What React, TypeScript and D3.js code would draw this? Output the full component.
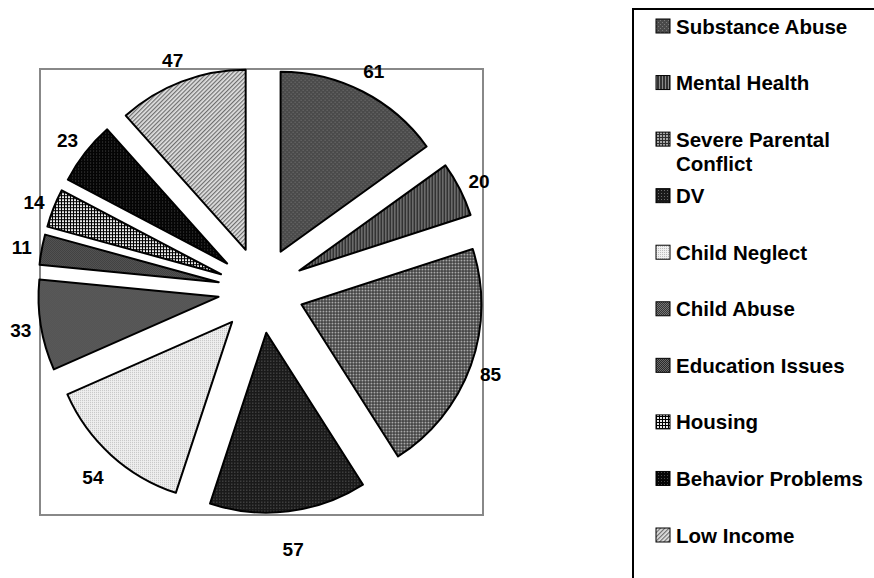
import * as d3 from 'd3'

const categories = [
  'Substance Abuse',
  'Mental Health',
  'Severe Parental Conflict',
  'DV',
  'Child Neglect',
  'Child Abuse',
  'Education Issues',
  'Housing',
  'Behavior Problems',
  'Low Income',
]
const values = [61, 20, 85, 57, 54, 33, 11, 14, 23, 47]
const legendLines = [
  ['Substance Abuse'],
  ['Mental Health'],
  ['Severe Parental', 'Conflict'],
  ['DV'],
  ['Child Neglect'],
  ['Child Abuse'],
  ['Education Issues'],
  ['Housing'],
  ['Behavior Problems'],
  ['Low Income'],
]
const patternIds = ['sa', 'mh', 'spc', 'dv', 'cn', 'ca', 'ed', 'ho', 'bp', 'li']

const W = 874
const H = 578
const cx = 261
const cy = 290
const radius = 180
const explode = 43
const font = 'Liberation Sans, Arial, sans-serif'

function Patterns() {
  return (
    <defs>
      <pattern id="sa" width={4} height={4} patternUnits="userSpaceOnUse">
        <rect width={4} height={4} fill="#4a4a4a" />
        <rect x={0} y={0} width={1} height={1} fill="#7a7a7a" />
        <rect x={2} y={2} width={1} height={1} fill="#7a7a7a" />
      </pattern>
      <pattern id="mh" width={3} height={3} patternUnits="userSpaceOnUse">
        <rect width={3} height={3} fill="#333" />
        <rect x={2} width={1} height={3} fill="#8a8a8a" />
      </pattern>
      <pattern id="spc" width={3} height={3} patternUnits="userSpaceOnUse">
        <rect width={3} height={3} fill="#2e2e2e" />
        <rect width={2} height={2} fill="#a8a8a8" />
      </pattern>
      <pattern id="dv" width={3} height={3} patternUnits="userSpaceOnUse">
        <rect width={3} height={3} fill="#1a1a1a" />
        <rect x={1} y={1} width={1} height={1} fill="#6a6a6a" />
      </pattern>
      <pattern id="cn" width={2} height={2} patternUnits="userSpaceOnUse">
        <rect width={2} height={2} fill="#f0f0f0" />
        <rect width={1} height={1} fill="#bdbdbd" />
      </pattern>
      <pattern id="ca" width={2} height={2} patternUnits="userSpaceOnUse">
        <rect width={2} height={2} fill="#363636" />
        <rect width={1} height={1} fill="#777" />
        <rect x={1} y={1} width={1} height={1} fill="#777" />
      </pattern>
      <pattern id="ed" width={2} height={2} patternUnits="userSpaceOnUse">
        <rect width={2} height={2} fill="#2a2a2a" />
        <rect width={1} height={1} fill="#6a6a6a" />
        <rect x={1} y={1} width={1} height={1} fill="#6a6a6a" />
      </pattern>
      <pattern id="ho" width={3} height={3} patternUnits="userSpaceOnUse">
        <rect width={3} height={3} fill="#000" />
        <rect width={2} height={2} fill="#e8e8e8" />
      </pattern>
      <pattern id="bp" width={3} height={3} patternUnits="userSpaceOnUse">
        <rect width={3} height={3} fill="#050505" />
        <rect x={1} y={1} width={1} height={1} fill="#4a4a4a" />
      </pattern>
      <pattern id="li" width={3} height={3} patternUnits="userSpaceOnUse" patternTransform="rotate(45)">
        <rect width={3} height={3} fill="#e2e2e2" />
        <rect width={1.2} height={3} fill="#6e6e6e" />
      </pattern>
    </defs>
  )
}

export default function App() {
  const data = categories.map((c, i) => ({ name: c, value: values[i], pat: patternIds[i] }))
  const pie = d3.pie<any>().value((d) => d.value).sort(null)
  const arcs = pie(data)
  const arc = d3.arc<any>().innerRadius(0).outerRadius(radius)

  const legendY = d3.scaleLinear().domain([0, 9]).range([26, 535])

  return (
    <svg
      width={W}
      height={H}
      style={{ position: 'absolute', left: 0, top: 0, background: '#fff' }}
      fontFamily={font}
    >
      <Patterns />
      <rect x={40} y={69} width={443} height={446} fill="none" stroke="#888" strokeWidth={2} />
      {arcs.map((a, i) => {
        const mid = (a.startAngle + a.endAngle) / 2
        const dx = Math.sin(mid) * explode
        const dy = -Math.cos(mid) * explode
        return (
          <path
            key={i}
            d={arc(a) as string}
            transform={`translate(${cx + dx},${cy + dy})`}
            fill={`url(#${a.data.pat})`}
            stroke="#000"
            strokeWidth={2}
            strokeLinejoin="round"
          />
        )
      })}
      {arcs.map((a, i) => {
        const mid = (a.startAngle + a.endAngle) / 2
        const down = Math.max(0, -Math.cos(mid))
        const side = Math.abs(Math.sin(mid))
        const r = 248 - 5 * Math.pow(side, 3) + 12 * Math.pow(down, 4)
        return (
          <text
            key={i}
            x={cx + Math.sin(mid) * r}
            y={cy - Math.cos(mid) * r + 2}
            textAnchor="middle"
            dominantBaseline="central"
            fontSize={19}
            fontWeight="bold"
          >
            {a.data.value}
          </text>
        )
      })}
      <rect x={633} y={9} width={300} height={620} fill="none" stroke="#000" strokeWidth={2} />
      {legendLines.map((lines, i) => {
        const y = legendY(i)
        return (
          <g key={i}>
            <rect x={656} y={y - 7} width={14} height={14} fill={`url(#${patternIds[i]})`} stroke="#000" strokeWidth={1} />
            {lines.map((ln, j) => (
              <text key={j} x={676} y={y + j * 24} dominantBaseline="central" fontSize={20.5} fontWeight="bold">
                {ln}
              </text>
            ))}
          </g>
        )
      })}
    </svg>
  )
}
